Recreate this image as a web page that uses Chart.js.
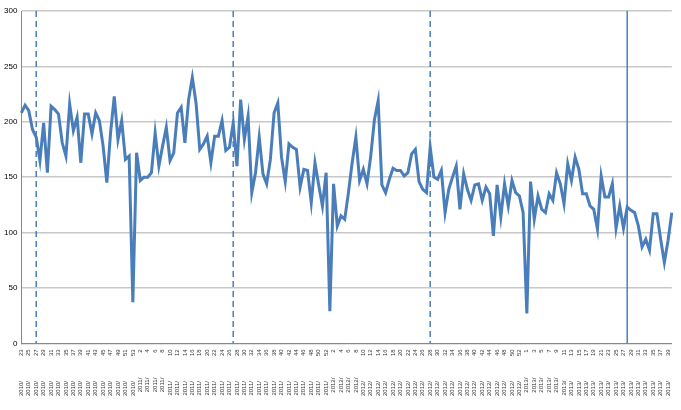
<!DOCTYPE html>
<html><head><meta charset="utf-8">
<script src="https://cdn.jsdelivr.net/npm/chart.js@4"></script>
<style>html,body{margin:0;padding:0;background:#fff}#w{width:681px;height:410px}</style>
</head><body><div id="w"><canvas id="c"></canvas></div>
<script>
const weekYears = [2010, 2011, 2012, 2013];
const weekRanges = [[23, 53], [1, 52], [1, 53], [1, 40]];
const values = [208,215,210,193,186,165,199,154,214,211,207,181,169,216,192,204,163,207,207,189,208,201,178,145,190,223,184,201,166,169,37,172,147,150,150,154,190,160,178,195,165,172,208,213,181,220,240,217,175,180,187,163,187,187,201,174,177,199,160,
220,184,205,136,154,186,153,144,166,208,217,168,146,180,177,175,141,157,156,127,163,143,124,154,29,144,106,115,112,136,163,186,147,157,144,169,202,219,143,136,148,158,156,156,151,154,171,175,146,139,136,177,150,148,156,118,
139,150,160,121,153,139,129,143,144,129,141,135,97,143,114,144,124,147,136,133,118,27,146,112,133,121,118,135,129,154,144,126,162,147,168,157,135,135,124,121,103,151,132,132,144,104,124,104,123,120,118,106,87,94,84,117,117,94,73,93,118];
const dashedAt = [4, 57, 110];
const solidAt = [163];
const yTicks = [0, 50, 100, 150, 200, 250, 300];

const labels = [];
weekYears.forEach((y, k) => { for (let w = weekRanges[k][0]; w <= weekRanges[k][1]; w++) labels.push(y + '/               ' + w); });

const vlines = {
  id: 'vlines',
  afterDatasetsDraw(ch) {
    const {ctx, chartArea: a, scales: {x}} = ch;
    ctx.save(); ctx.strokeStyle = '#4a7ebb'; ctx.lineWidth = 1.5;
    dashedAt.forEach(i => { const px = x.getPixelForValue(i); ctx.setLineDash([6, 4]); ctx.beginPath(); ctx.moveTo(px, a.top); ctx.lineTo(px, a.bottom); ctx.stroke(); });
    ctx.setLineDash([]);
    solidAt.forEach(i => { const px = x.getPixelForValue(i); ctx.beginPath(); ctx.moveTo(px, a.top); ctx.lineTo(px, a.bottom); ctx.stroke(); });
    ctx.restore();
  }
};

new Chart(document.getElementById('c'), {
  type: 'line',
  data: { labels, datasets: [{ data: values.slice(0, labels.length), borderColor: '#4a7ebb', borderWidth: 3, pointRadius: 0, tension: 0, fill: false }] },
  options: {
    responsive: true, maintainAspectRatio: false, animation: false,
    layout: { padding: { top: 11, right: 9, left: 0, bottom: 12 } },
    plugins: { legend: { display: false }, tooltip: { enabled: false } },
    scales: {
      x: {
        offset: false,
        grid: { display: false, drawTicks: true, tickLength: 4 },
        border: { color: '#888' },
        ticks: { autoSkip: false, minRotation: 90, maxRotation: 90, font: { size: 6, family: 'Liberation Sans' }, color: '#333', padding: 2,
          callback: (v, i) => i % 2 === 0 ? labels[i] : '' }
      },
      y: {
        min: 0, max: 300,
        afterBuildTicks: s => { s.ticks = yTicks.map(v => ({ value: v })); },
        grid: { color: '#c8c8c8', lineWidth: 1.5, drawTicks: false },
        border: { color: '#888' },
        ticks: { font: { size: 8, family: 'Liberation Sans' }, color: '#000', padding: 4 }
      }
    }
  },
  plugins: [vlines]
});
</script></body></html>
